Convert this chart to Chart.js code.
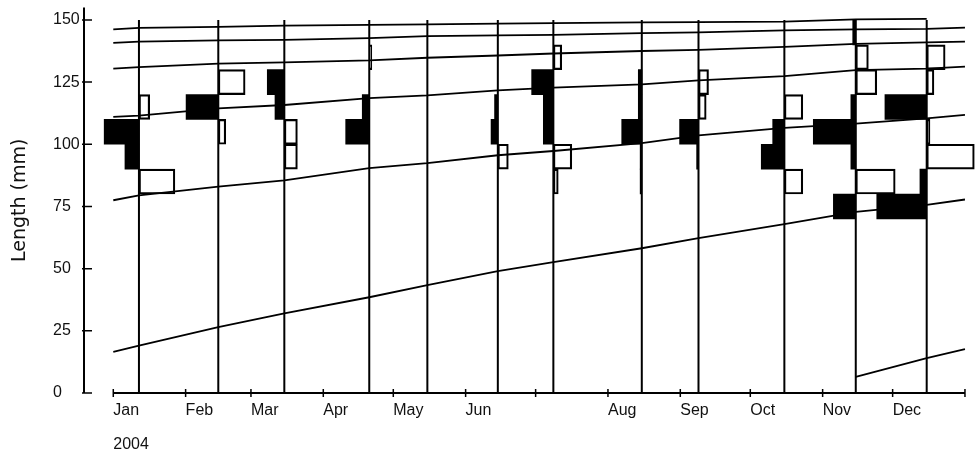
<!DOCTYPE html>
<html>
<head>
<meta charset="utf-8">
<script src="https://cdn.jsdelivr.net/npm/chart.js@4.4.1/dist/chart.umd.min.js"></script>
<style>
  html, body { margin: 0; padding: 0; background: #fff; }
  #wrap { width: 975px; height: 455px; }
</style>
</head>
<body>
<div id="wrap"><canvas id="chart"></canvas></div>
<script>
// x axis: day of the year 2004, ticks at the first of each month
const monthStarts = [0, 31, 59, 90, 120, 151, 181, 212, 243, 273, 304, 334, 365];
const monthLabels = [["Jan", "2004"], "Feb", "Mar", "Apr", "May", "Jun", "", "Aug", "Sep", "Oct", "Nov", "Dec", ""];
const lengthTicks = [0, 25, 50, 75, 100, 125, 150];

// sampling dates (day of year)
const sampleDays = [11.0, 45.0, 73.3, 109.7, 134.6, 164.8, 188.6, 226.5, 250.8, 287.6, 318.2, 348.6];

// lower bound of the 10 mm length classes
const lengthClasses = [70, 80, 90, 100, 110, 120, 130, 140];

// restructured scores (bar length in days) per sample and class
// > 0 : black peak bar, left of the sample line ; < 0 : white trough bar, right of it
const scores = [
  [0, -15.4, 6.0, 14.9, -4.6, 0, 0, 0],          // Jan
  [0, 0, 0, -3.2, 13.8, -11.5, 0, 0],            // Feb
  [0, 0, -5.6, -5.6, 4.0, 7.3, 0, 0],            // Mar
  [0, 0, 0, 10.1, 3.0, 0, -1.1, 0],              // Apr
  [0, 0, 0, 0, 0, 0, 0, 0],                      // May
  [0, 0, -4.5, 2.9, 1.4, 0, 0, 0],               // Jun
  [0, -2.1, -7.9, 4.3, 4.3, 9.3, -3.6, 0],       // Jul
  [0, 0.7, 0.7, 8.6, 1.5, 1.5, 0, 0],            // Aug
  [0, 0, 0.8, 8.1, -3.3, -4.3, 0, 0],            // Sep
  [0, -7.9, 9.9, 5.0, -7.9, 0, 0, 0],            // Oct
  [9.6, -16.9, 2.1, 18.2, 2.1, -9.0, -5.4, 1.3], // Nov
  [21.4, 2.9, -20.4, -1.4, 17.9, -3.1, -7.9, 0]  // Dec
];

// growth curves (mm) read at these days
const curveDays = [0, 11.0, 45.0, 73.3, 109.7, 134.6, 164.8, 188.6, 226.5, 250.8, 287.6, 318.2, 348.6, 365];
const cohort1 = [16.5, 19.0, 26.5, 32.0, 38.5, 43.4, 49.0, 52.6, 58.2, 62.3, 67.9, 72.8, 75.6, 77.8];
const cohort2 = [77.5, 79.5, 83.0, 85.5, 90.4, 92.4, 95.6, 97.3, 100.5, 103.6, 106.6, 108.3, 110.4, 111.8];
const cohort3 = [111.0, 111.5, 114.4, 115.8, 118.6, 119.7, 121.7, 122.8, 124.1, 125.7, 127.4, 129.8, 130.4, 131.2];
const cohort4 = [130.4, 131.0, 132.4, 132.9, 133.7, 134.8, 135.7, 136.5, 137.5, 138.0, 139.2, 140.4, 141.0, 141.3];
const cohort5 = [140.8, 141.3, 141.8, 142.0, 142.7, 143.5, 143.8, 144.0, 144.7, 145.0, 145.8, 146.2, 146.4, 146.9];
const cohort6 = [146.2, 146.8, 147.2, 147.7, 148.0, 148.2, 148.5, 148.7, 149.0, 149.1, 149.3, 150.2, 150.4, null];
const cohort7 = [null, null, null, null, null, null, null, null, null, null, null, 6.5, 14.0, 17.6];

const sampleTop = 150;

const blackBars = [];
const whiteBars = [];
sampleDays.forEach((day, i) => {
  scores[i].forEach((s, j) => {
    if (!s) return;
    const bar = { y: lengthClasses[j] + 5, x: [day, day - s] };
    (s > 0 ? blackBars : whiteBars).push(bar);
  });
});

const barCommon = {
  type: "bar",
  indexAxis: "y",
  grouped: false,
  categoryPercentage: 1,
  barPercentage: 1,
  borderSkipped: false
};

const datasets = [
  { ...barCommon, data: blackBars, backgroundColor: "#000", borderWidth: 0 },
  { ...barCommon, data: whiteBars, backgroundColor: "rgba(0,0,0,0)", borderColor: "#000", borderWidth: 1.5 }
];

sampleDays.forEach((d) => {
  datasets.push({
    type: "line",
    data: [{ x: d, y: 0 }, { x: d, y: sampleTop }],
    borderColor: "#000",
    borderWidth: 2,
    pointRadius: 0
  });
});

[cohort1, cohort2, cohort3, cohort4, cohort5, cohort6, cohort7].forEach((c) => {
  datasets.push({
    type: "line",
    data: curveDays.map((d, i) => ({ x: d, y: c[i] })),
    borderColor: "#000",
    borderWidth: 1.8,
    pointRadius: 0,
    tension: 0
  });
});

// axis lines and the small tick marks
const axisLines = {
  id: "axisLines",
  afterDatasetsDraw(chart) {
    const { ctx, chartArea, scales: { x, y } } = chart;
    const y0 = y.getPixelForValue(0);
    ctx.save();
    ctx.strokeStyle = "#000";
    ctx.lineWidth = 2;
    ctx.beginPath();
    ctx.moveTo(chartArea.left, chartArea.top);
    ctx.lineTo(chartArea.left, y0);
    ctx.moveTo(x.getPixelForValue(monthStarts[0]), y0);
    ctx.lineTo(x.getPixelForValue(monthStarts[monthStarts.length - 1]), y0);
    ctx.stroke();
    ctx.lineWidth = 1.5;
    ctx.beginPath();
    monthStarts.forEach((v) => {
      const px = x.getPixelForValue(v);
      ctx.moveTo(px, y0 - 4);
      ctx.lineTo(px, y0 + 4);
    });
    lengthTicks.forEach((v) => {
      const py = y.getPixelForValue(v);
      ctx.moveTo(chartArea.left - 2, py);
      ctx.lineTo(chartArea.left + 8, py);
    });
    ctx.stroke();
    ctx.restore();
  }
};

new Chart(document.getElementById("chart"), {
  type: "line",
  data: { datasets },
  plugins: [axisLines],
  options: {
    responsive: true,
    maintainAspectRatio: false,
    animation: false,
    layout: { padding: { top: 7.5, right: 0, bottom: 0, left: 0 } },
    plugins: {
      legend: { display: false },
      tooltip: { enabled: false },
      title: {
        display: true,
        position: "left",
        fullSize: false,
        text: "Length (mm)",
        color: "#111",
        font: { family: "DejaVu Sans", size: 19, weight: "normal", lineHeight: 1.2 },
        padding: { top: 8.6, bottom: 21.6 }
      }
    },
    scales: {
      x: {
        type: "linear",
        min: -12.55,
        max: 369.3,
        offset: false,
        border: { display: false },
        grid: { display: false, drawTicks: false },
        afterBuildTicks: (s) => { s.ticks = monthStarts.map((v) => ({ value: v })); },
        afterFit: (s) => { s.height = 62; },
        ticks: {
          autoSkip: false,
          maxRotation: 0,
          minRotation: 0,
          align: "start",
          padding: 1,
          color: "#111",
          font: { family: "Liberation Sans", size: 16, lineHeight: 2.1 },
          callback: (v, i) => monthLabels[i]
        }
      },
      y: {
        type: "linear",
        min: 0,
        max: 155,
        offset: false,
        border: { display: false },
        grid: { display: false, drawTicks: false },
        afterBuildTicks: (s) => { s.ticks = lengthTicks.map((v) => ({ value: v })); },
        afterFit: (s) => { s.width = 31; },
        ticks: {
          autoSkip: false,
          crossAlign: "far",
          padding: 4,
          color: "#111",
          font: { family: "Liberation Sans", size: 16, lineHeight: 0.4 },
          callback: (v) => v
        }
      }
    }
  }
});
</script>
</body>
</html>
